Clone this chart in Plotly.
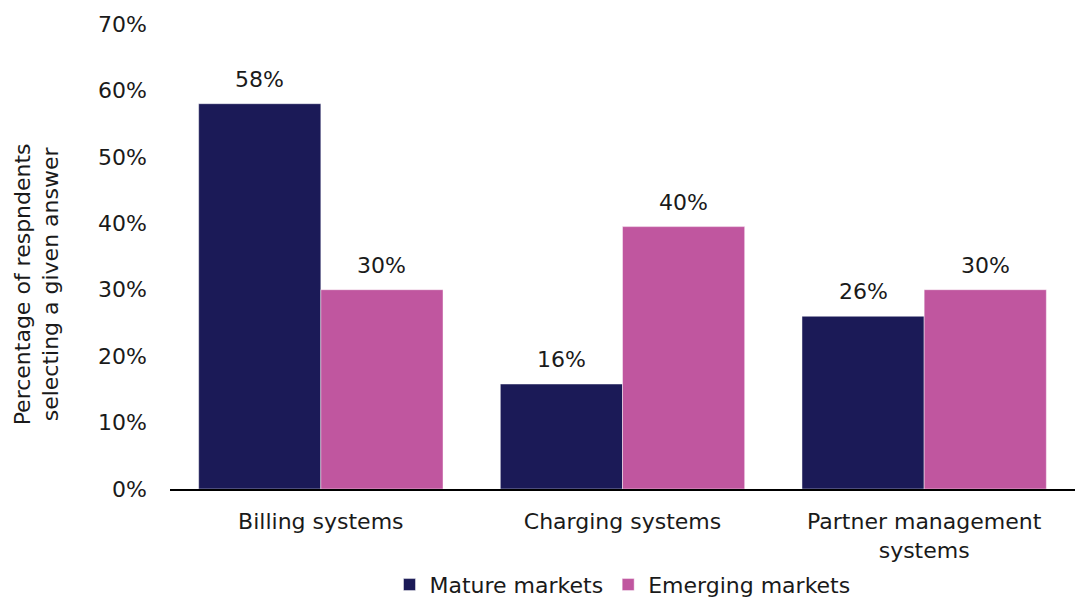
import plotly.graph_objects as go

categories = ["Billing systems", "Charging systems", "Partner management<br>systems"]
mature = [58, 15.8, 26]
emerging = [30, 39.5, 30]
series_names = ["Mature markets", "Emerging markets"]
colors = ["#1B1A57", "#C0569F"]
y_ticks = [0, 10, 20, 30, 40, 50, 60, 70]

FONT = "DejaVu Sans, Liberation Sans, Arial, sans-serif"
TXT = "#1a1a1a"
FS = 22

fig = go.Figure()
for name, vals, col in zip(series_names, [mature, emerging], colors):
    fig.add_trace(go.Bar(
        x=categories, y=vals, name=name,
        marker=dict(color=col, line=dict(color="rgba(255,255,255,0.45)", width=1)),
        hoverinfo="skip",
    ))

# value labels above bars
for si, vals in enumerate([mature, emerging]):
    shift = -61 if si == 0 else 61
    for ci, v in enumerate(vals):
        fig.add_annotation(
            x=categories[ci], y=v, xref="x", yref="y",
            text=f"{round(v):.0f}%", showarrow=False,
            xshift=shift, yshift=10, yanchor="bottom",
            font=dict(family=FONT, size=FS, color=TXT),
        )

fig.add_annotation(
    text="Percentage of respndents<br>selecting a given answer",
    xref="paper", yref="paper", x=-0.147, y=0.44,
    xanchor="center", yanchor="middle", textangle=-90, showarrow=False,
    font=dict(family=FONT, size=FS, color=TXT),
)

fig.update_layout(
    width=1075, height=601,
    margin=dict(l=170, r=0, t=24, b=112, autoexpand=False),
    paper_bgcolor="white", plot_bgcolor="white",
    barmode="group", bargap=0.19, bargroupgap=0,
    font=dict(family=FONT, size=FS, color=TXT),
    showlegend=True,
    legend=dict(orientation="h", x=0.5, xanchor="center",
                yref="container", y=0.027, yanchor="middle",
                font=dict(family=FONT, size=FS, color=TXT), traceorder="normal",
                itemwidth=30),
    xaxis=dict(showgrid=False, showline=True, linecolor="black", linewidth=2,
               ticks="", ticklabelstandoff=12,
               tickfont=dict(family=FONT, size=FS, color=TXT)),
    yaxis=dict(range=[0, 70], tickvals=y_ticks, ticktext=[f"{t}%" for t in y_ticks],
               showgrid=False, zeroline=False, showline=False, ticks="",
               ticklabelstandoff=22,
               tickfont=dict(family=FONT, size=FS, color=TXT)),
)

fig.write_html("out.html")
